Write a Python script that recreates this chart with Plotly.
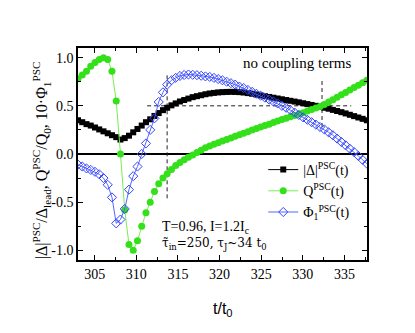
import plotly.graph_objects as go

# sample times t/t0
t = [303.00, 303.51, 304.02, 304.53, 305.04, 305.55, 306.06, 306.57, 307.08, 307.59,
     308.10, 308.61, 309.12, 309.63, 310.14, 310.65, 311.16, 311.67, 312.18, 312.69,
     313.20, 313.71, 314.22, 314.73, 315.24, 315.75, 316.26, 316.77, 317.28, 317.79,
     318.30, 318.81, 319.32, 319.83, 320.34, 320.85, 321.36, 321.87, 322.38, 322.89,
     323.40, 323.91, 324.42, 324.93, 325.44, 325.95, 326.46, 326.97, 327.48, 327.99,
     328.50, 329.01, 329.52, 330.03, 330.54, 331.05, 331.56, 332.07, 332.58, 333.09,
     333.60, 334.11, 334.62, 335.13, 335.64, 336.15, 336.66, 337.17, 337.68]

delta_psc = [0.35, 0.33, 0.31, 0.295, 0.275, 0.255, 0.235, 0.215, 0.195, 0.175,
             0.15, 0.165, 0.19, 0.225, 0.26, 0.295, 0.33, 0.36, 0.395, 0.425,
             0.455, 0.48, 0.505, 0.525, 0.545, 0.56, 0.575, 0.59, 0.60, 0.61,
             0.62, 0.628, 0.634, 0.639, 0.642, 0.644, 0.645, 0.644, 0.642, 0.638,
             0.632, 0.625, 0.617, 0.608, 0.60, 0.592, 0.584, 0.576, 0.568, 0.56,
             0.552, 0.544, 0.536, 0.527, 0.518, 0.509, 0.50, 0.49, 0.48, 0.47,
             0.458, 0.446, 0.434, 0.421, 0.407, 0.393, 0.379, 0.365, 0.35]

q_psc = [0.78, 0.82, 0.86, 0.91, 0.95, 0.98, 1.00, 0.98, 0.86, 0.55,
         0.00, -0.58, -0.94, -1.00, -0.90, -0.75, -0.61, -0.50, -0.39, -0.31,
         -0.25, -0.205, -0.16, -0.12, -0.087, -0.06, -0.035, -0.01, 0.015, 0.04,
         0.065, 0.083, 0.10, 0.117, 0.134, 0.15, 0.167, 0.184, 0.20, 0.216,
         0.232, 0.248, 0.264, 0.28, 0.295, 0.31, 0.326, 0.342, 0.357, 0.372,
         0.387, 0.40, 0.414, 0.429, 0.445, 0.461, 0.477, 0.493, 0.514, 0.539,
         0.564, 0.589, 0.614, 0.639, 0.664, 0.689, 0.714, 0.739, 0.765]

phi_psc = [-0.11, -0.13, -0.15, -0.165, -0.185, -0.21, -0.25, -0.32, -0.45, -0.72,
           -0.68, -0.57, -0.37, -0.23, -0.13, 0.0, 0.11, 0.25, 0.37, 0.54,
           0.64, 0.72, 0.765, 0.79, 0.81, 0.82, 0.825, 0.822, 0.818, 0.812,
           0.805, 0.80, 0.79, 0.778, 0.765, 0.75, 0.735, 0.72, 0.70, 0.685,
           0.665, 0.645, 0.625, 0.605, 0.585, 0.565, 0.545, 0.525, 0.50, 0.48,
           0.455, 0.43, 0.405, 0.38, 0.355, 0.33, 0.305, 0.28, 0.255, 0.225,
           0.195, 0.16, 0.125, 0.09, 0.055, 0.02, -0.02, -0.06, -0.10]

# dashed guide lines
hguide_x = [311.3, 335.8]
hguide_y = [0.5, 0.5]
vguide1_x = [313.7, 313.7]
vguide1_y = [-0.46, 0.84]
vguide2_x = [332.3, 332.3]
vguide2_y = [0.28, 0.76]

x_ticks = [305, 310, 315, 320, 325, 330, 335]
y_tickvals = [-1.0, -0.5, 0.0, 0.5, 1.0]
y_ticktext = ["-1.0", "-0.5", "0.0", "0.5", "1.0"]

SERIF = "Liberation Serif"

fig = go.Figure()

for gx, gy in [(hguide_x, hguide_y), (vguide1_x, vguide1_y), (vguide2_x, vguide2_y)]:
    fig.add_trace(go.Scatter(x=gx, y=gy, mode="lines", showlegend=False, hoverinfo="skip",
                             line=dict(color="#222222", width=1, dash="4px,3px")))

fig.add_trace(go.Scatter(
    x=t, y=delta_psc, mode="lines+markers", name="|Δ|<sup>PSC</sup>(t)",
    line=dict(color="#000000", width=1),
    marker=dict(symbol="square", size=6, color="#000000")))
fig.add_trace(go.Scatter(
    x=t, y=q_psc, mode="lines+markers", name="Q<sup>PSC</sup>(t)",
    line=dict(color="#77ee55", width=1),
    marker=dict(symbol="circle", size=7, color="#33e01a")))
fig.add_trace(go.Scatter(
    x=t, y=phi_psc, mode="lines+markers", name="Φ<sub>1</sub><sup>PSC</sup>(t)",
    line=dict(color="#5566ff", width=1),
    marker=dict(symbol="diamond-open", size=7, color="#3344ff", line=dict(width=1))))

fig.update_layout(
    width=415, height=333,
    margin=dict(l=78, r=48, t=48, b=73),
    paper_bgcolor="white", plot_bgcolor="white",
    font=dict(family=SERIF, size=14, color="black"),
    showlegend=True,
    legend=dict(x=0.641, y=0.5, xanchor="left", yanchor="top",
                bgcolor="rgba(0,0,0,0)", borderwidth=0,
                font=dict(family=SERIF, size=14), tracegroupgap=0, itemwidth=30),
)

fig.update_xaxes(range=[303, 337.7], tickvals=x_ticks, ticks="inside", ticklen=5,
                 tickwidth=1, tickcolor="black", showline=True, linecolor="black",
                 linewidth=1.5, mirror="ticks", showgrid=False, zeroline=False,
                 tickfont=dict(family=SERIF, size=14),
                 minor=dict(dtick=2.5, tick0=302.5, ticks="inside", ticklen=3, tickcolor="black"))
fig.update_yaxes(range=[-1.1, 1.1], tickvals=y_tickvals, ticktext=y_ticktext,
                 ticks="inside", ticklen=5, tickwidth=1, tickcolor="black",
                 showline=True, linecolor="black", linewidth=1.5, mirror="ticks",
                 showgrid=False, zeroline=True, zerolinecolor="black", zerolinewidth=1.5,
                 tickfont=dict(family=SERIF, size=14),
                 minor=dict(dtick=0.25, tick0=0, ticks="inside", ticklen=3, tickcolor="black"))

fig.add_annotation(xref="paper", yref="paper", x=-0.125, y=0.47, textangle=-90,
                   showarrow=False, xanchor="center", yanchor="middle",
                   text="|Δ|<sup>PSC</sup>/Δ<sub>lead</sub>, Q<sup>PSC</sup>/Q<sub>0</sub>, 10·Φ<sub>1</sub><sup>PSC</sup>",
                   font=dict(family=SERIF, size=16))
fig.add_annotation(xref="paper", yref="paper", x=0.50, y=-0.18, showarrow=False,
                   xanchor="center", yanchor="top", text="t/t<sub>0</sub>",
                   font=dict(family="Liberation Sans", size=16))
fig.add_annotation(xref="paper", yref="paper", x=0.95, y=0.93, showarrow=False,
                   xanchor="right", yanchor="middle", text="no coupling terms",
                   font=dict(family=SERIF, size=15))
fig.add_annotation(xref="paper", yref="paper", x=0.285, y=0.155, showarrow=False,
                   xanchor="left", yanchor="middle", text="T=0.96, I=1.2I<sub>c</sub>",
                   font=dict(family=SERIF, size=14))
fig.add_annotation(xref="paper", yref="paper", x=0.285, y=0.075, showarrow=False,
                   xanchor="left", yanchor="middle",
                   text="τ̃<sub>in</sub>=250, τ<sub>J</sub>~34 t<sub>0</sub>",
                   font=dict(family="DejaVu Serif", size=12))

fig.write_html("out.html", post_script="document.body.style.margin='0px';",
               config={"displayModeBar": False})
